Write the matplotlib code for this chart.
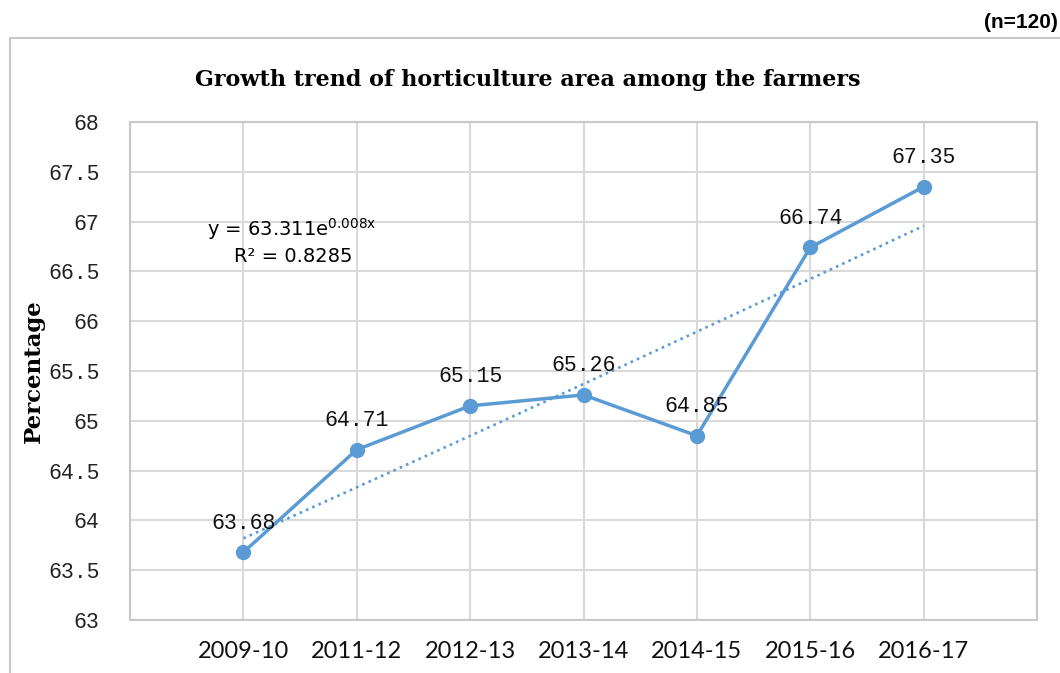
import matplotlib
matplotlib.use("Agg")
import matplotlib.pyplot as plt
import numpy as np
from matplotlib.patches import Rectangle

years = ["2009-10", "2011-12", "2012-13", "2013-14", "2014-15", "2015-16", "2016-17"]
values = [63.68, 64.71, 65.15, 65.26, 64.85, 66.74, 67.35]
trend_a = 63.311
trend_b = 0.008
r2 = 0.8285
yticks = [63, 63.5, 64, 64.5, 65, 65.5, 66, 66.5, 67, 67.5, 68]
ytick_labels = ["63", "63.5", "64", "64.5", "65", "65.5", "66", "66.5", "67", "67.5", "68"]

blue = "#5B9BD5"
grid = "#D9D9D9"

fig = plt.figure(figsize=(10.6, 6.73), dpi=100)
ax = fig.add_axes([130/1060, 1-620/673, (1037-130)/1060, (620-122)/673])

x = np.arange(len(years))
ax.plot(x, values, color=blue, lw=2.5, marker="o", ms=10, zorder=4)

xt = np.linspace(0, len(years)-1, 100)
ax.plot(xt, trend_a*np.exp(trend_b*(xt+1)), color=blue, lw=1.9, ls=(0, (1, 1.6)), zorder=3)

for xi, v in zip(x, values):
    ax.annotate(f"{v:.2f}", (xi, v), xytext=(0, 21), textcoords="offset points",
                ha="center", va="center", fontsize=15.5, family="Liberation Mono", color="#111111", zorder=5)

ax.set_xlim(-1, 7)
ax.set_ylim(63, 68)
ax.set_yticks(yticks)
ax.set_yticklabels(ytick_labels, family="Liberation Mono", fontsize=15.5, color="#222222")
ax.set_xticks(x)
ax.set_xticklabels(years, family="Lato", fontsize=17, color="#111111")
ax.set_xticks(np.arange(-1, 8), minor=True)
ax.tick_params(which="both", length=0)
ax.tick_params(axis="y", pad=22)
ax.tick_params(axis="x", pad=15)
ax.grid(True, which="minor", axis="x", color=grid, lw=1.5)
ax.grid(True, which="major", axis="x", color=grid, lw=1.5)
ax.grid(True, which="major", axis="y", color=grid, lw=1.5)
ax.set_axisbelow(True)
for s in ax.spines.values():
    s.set_color("#C8C8C8")
    s.set_linewidth(1.5)

ax.set_ylabel("Percentage", family="DejaVu Serif", fontweight="bold", fontsize=16.5, labelpad=2)

ax.text(207/1060, 1-229/673, "y = 63.311e$^{\\mathregular{0.008x}}$", transform=fig.transFigure,
        family="DejaVu Sans", fontsize=14, ha="left", va="center")
ax.text(293/1060, 1-256/673, f"R\u00b2 = {r2}", transform=fig.transFigure,
        family="DejaVu Sans", fontsize=14, ha="center", va="center")

fig.text(528/1060, 1-80/673, "Growth trend of horticulture area among the farmers",
         family="DejaVu Serif", fontweight="bold", fontsize=16, ha="center", va="center")
fig.text(1058/1060, 1-22/673, "(n=120)", family="Liberation Sans", fontweight="bold",
         fontsize=15, ha="right", va="center")

fig.patches.append(Rectangle((10/1060, -0.01), 1.1, 1-38/673+0.01, transform=fig.transFigure,
                             fill=False, edgecolor="#C8C8C8", lw=1.5))

fig.savefig("out.png", dpi=100)
